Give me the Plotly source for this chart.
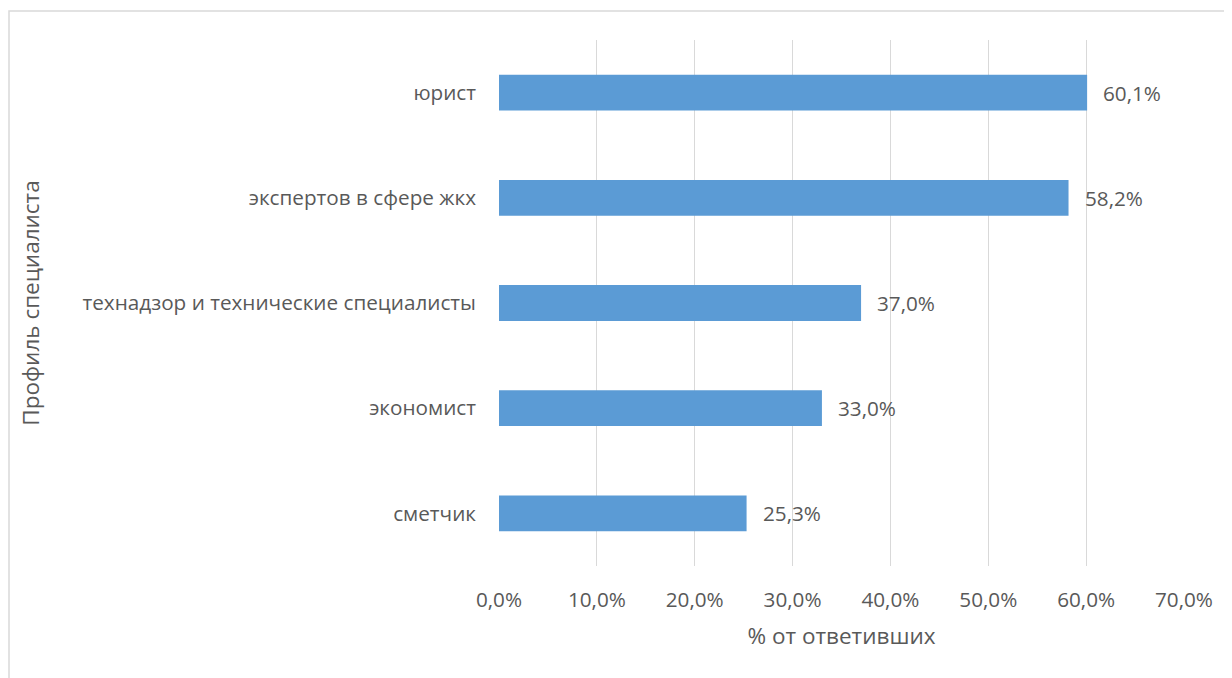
import plotly.graph_objects as go

categories = ["сметчик", "экономист", "технадзор и технические специалисты",
              "экспертов в сфере жкх", "юрист"]
values = [25.3, 33.0, 37.0, 58.2, 60.1]
labels = ["25,3%", "33,0%", "37,0%", "58,2%", "60,1%"]
tick_vals = [0, 10, 20, 30, 40, 50, 60, 70]
tick_text = ["0,0%", "10,0%", "20,0%", "30,0%", "40,0%", "50,0%", "60,0%", "70,0%"]

FONT = "Open Sans, Liberation Sans, sans-serif"
TXT = "#595959"
LBL = 20.7
TTL = 22.5

W, H = 1224, 670
L, R, T, B = 491, 48, 32, 112
PW, PH = W - L - R, H - T - B

fig = go.Figure()
fig.add_trace(go.Bar(
    y=categories, x=values, orientation="h",
    marker=dict(color="#5B9BD5", line=dict(width=0)),
    width=0.34, hoverinfo="skip",
))
for c, v, t in zip(categories, values, labels):
    fig.add_annotation(x=v, y=c, text=t, showarrow=False, xanchor="left",
                       xshift=14, font=dict(size=LBL, color=TXT, family=FONT))

fig.update_layout(
    width=W, height=H,
    margin=dict(l=L, r=R, t=T, b=B, autoexpand=False),
    paper_bgcolor="white", plot_bgcolor="white",
    showlegend=False,
    font=dict(family=FONT, size=LBL, color=TXT),
    xaxis=dict(range=[0, 70], tickvals=tick_vals, ticktext=tick_text,
               showgrid=True, gridcolor="#D9D9D9", gridwidth=1.3,
               zeroline=False, showline=False, ticks="",
               ticklabelstandoff=19, automargin=False,
               tickfont=dict(size=LBL, color=TXT),
               title=dict(text="% от ответивших", standoff=16,
                          font=dict(size=TTL, color=TXT))),
    yaxis=dict(showgrid=False, zeroline=False, showline=False, ticks="",
               ticklabelstandoff=22, automargin=False,
               tickfont=dict(size=LBL, color=TXT),
               title=dict(text="Профиль специалиста", standoff=36,
                          font=dict(size=TTL, color=TXT))),
    shapes=[dict(type="rect", xref="paper", yref="paper",
                 x0=(1 - L) / PW, x1=1 + (R + 20) / PW,
                 y0=-(B + 20) / PH, y1=1 + (T - 3) / PH,
                 line=dict(color="#D9D9D9", width=1.5), layer="below")],
)
fig.write_html("out.html")
